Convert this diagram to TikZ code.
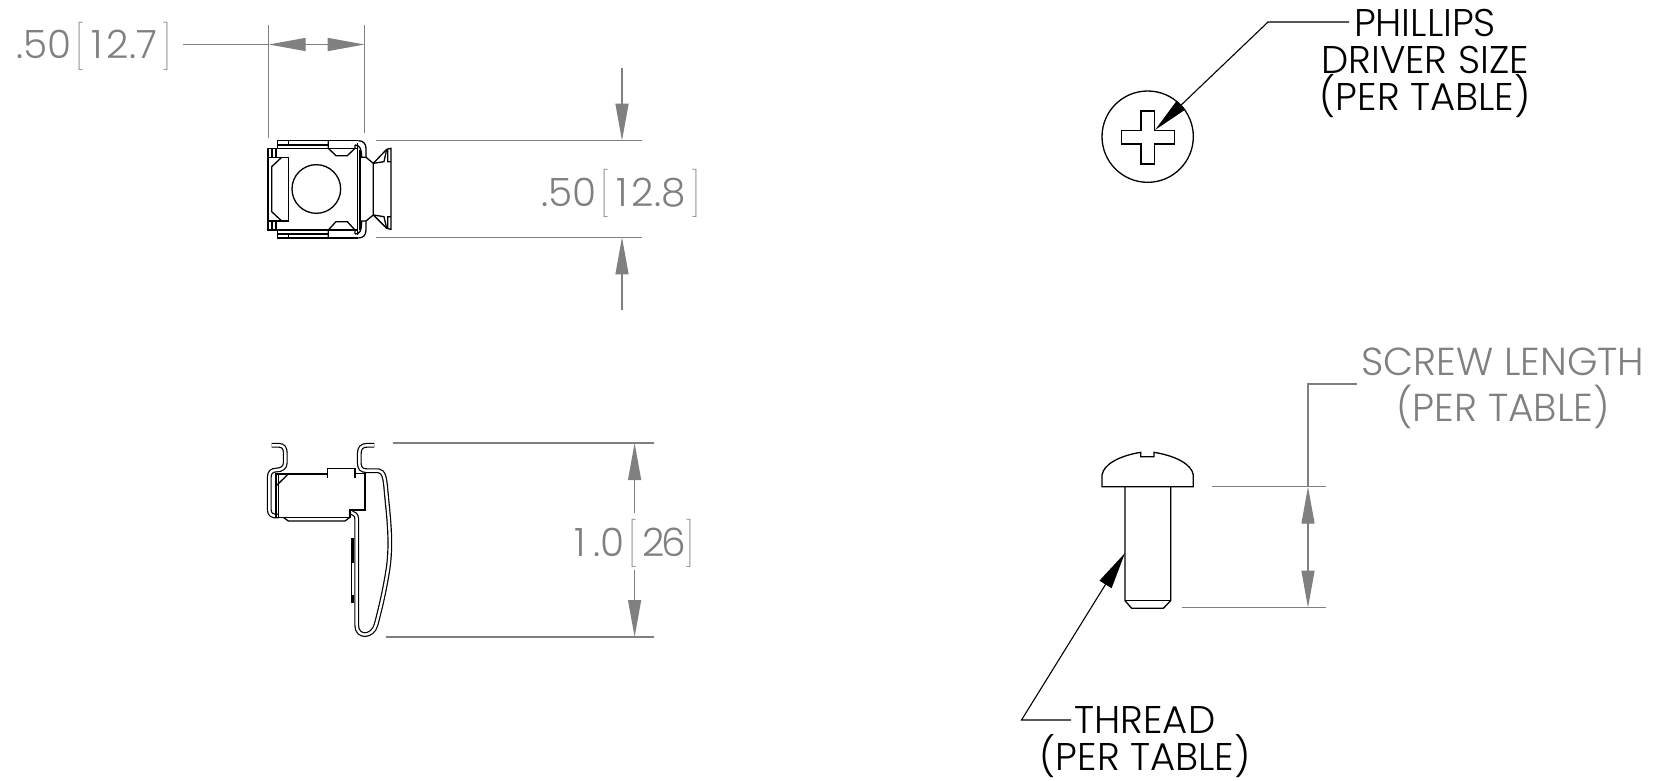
\documentclass[tikz,border=0pt]{standalone}
\usepackage{fontspec}
\setmainfont{Poppins}[UprightFont=* Light]
\newfontfamily\bracketfont{Poppins Thin}
\usepackage{xcolor}
\usetikzlibrary{arrows.meta}
\definecolor{dimgray}{RGB}{128,128,128}
\newcommand{\dimbracket}[1]{{\bracketfont\fontsize{43}{43}\selectfont\raisebox{-3.5pt}{#1}}}
\newcommand{\dimtext}[2]{#1\kern4pt\dimbracket{[}\kern2pt#2\kern3pt\dimbracket{]}}

\begin{document}
\begin{tikzpicture}[x=1pt, y=-1pt]
    \tikzstyle{dimlabel} = [text=dimgray, font=\fontsize{39}{46}\selectfont, align=center, inner sep=0pt]
    \tikzstyle{notelabel} = [text=black, font=\fontsize{38.6}{37}\selectfont, align=center, inner sep=0pt]
    \tikzstyle{dimline} = [draw=dimgray, line width=1.2pt]
    \tikzstyle{dimarrow} = [dimline, -{Triangle[length=37pt, width=13pt]}]
    \tikzstyle{leader} = [draw=black, line width=1.1pt]
    \tikzstyle{part} = [draw=black, line width=1.3pt]
    \tikzstyle{strip} = [draw=black, line width=1.2pt, double=white, double distance=2.4pt]

    \useasboundingbox (0,0) rectangle (1653,781);

    % Top view of the cage nut
    \begin{scope}[shift={(240,120)}, x=0.3333pt, y=-0.3333pt]
        \draw [part] (84,85) -- (84,330) -- (352,330);
        \draw [part] (84,85) -- (112,85);
        \draw [part] (96,85) -- (96,112) (108,85) -- (108,112);
        \draw [part] (96,303) -- (96,330) (108,303) -- (108,330);
        \draw [part] (84,112) -- (145,112) -- (145,303) -- (84,303);
        \draw [part] (125,112) -- (95,140) -- (95,275) -- (125,303);
        \draw [part] (112,85) -- (112,62) -- (355,62);
        \draw [part] (112,75) -- (265,75) (145,62) -- (145,75);
        \draw [part] (112,85) -- (352,85);
        \draw [part] (112,330) -- (112,354) -- (355,354);
        \draw [part] (112,342) -- (265,342) (145,342) -- (145,354);
        \draw [part] (265,62) -- (265,85) -- (288,107) -- (322,107) -- (345,85) -- (345,75);
        \draw [part] (265,354) -- (265,330) -- (288,305) -- (322,305) -- (345,330) -- (345,342);
        \draw [part] (229,207) circle [radius=73];
        \draw [part] (352,70) -- (352,345) (360,90) -- (360,330);
        \draw [part] (355,62) .. controls (370,62) and (378,72) .. (378,85) -- (378,112);
        \draw [part] (345,75) .. controls (358,75) and (365,85) .. (365,112);
        \draw [part] (355,354) .. controls (370,354) and (378,345) .. (378,330) -- (378,303);
        \draw [part] (345,342) .. controls (358,342) and (365,335) .. (365,303);
        \draw [part] (360,112) -- (378,112) -- (400,130) -- (400,285) -- (378,303) -- (360,303);
        \draw [part] (400,130) -- (440,88) -- (453,85) -- (453,328) -- (440,325) -- (400,285);
        \draw [part] (440,88) -- (432,125) -- (400,130) (443,90) -- (443,125) -- (453,125);
        \draw [part] (440,325) -- (432,290) -- (400,285) (443,325) -- (443,290) -- (453,290);
    \end{scope}

    % Side view of the cage nut
    \begin{scope}[shift={(250,430)}, x=0.3333pt, y=-0.3333pt]
        \draw [strip] (373,46) -- (350,46) .. controls (335,46) and (328,55) .. (328,70) -- (328,100) .. controls (328,115) and (335,122) .. (350,122) -- (385,122) .. controls (402,124) and (405,145) .. (408,180) .. controls (414,250) and (428,340) .. (412,430) .. controls (402,490) and (390,540) .. (378,585) .. controls (368,622) and (320,625) .. (320,585) -- (320,265) .. controls (320,255) and (312,250) .. (305,248);
        \draw [strip] (65,46) -- (88,46) .. controls (100,46) and (106,55) .. (106,70) -- (106,98) .. controls (106,112) and (95,120) .. (80,120) .. controls (65,120) and (58,128) .. (58,140) -- (58,240) .. controls (58,252) and (65,260) .. (85,258);
        \draw [part] (78,132) -- (232,132) -- (232,115) -- (315,115) -- (315,130) -- (345,130) -- (345,240) -- (300,240) -- (300,262) -- (78,262) -- cycle;
        \draw [part] (78,168) -- (115,132);
        \draw [part] (85,132) -- (85,262);
        \draw [part] (100,262) -- (115,273) -- (285,273) -- (300,262);
        \draw [part] (232,132) -- (232,145) (315,130) -- (315,145);
        \draw [part, line width=2.4pt] (308,325) -- (308,400) (308,495) -- (308,520);
        \draw [part] (305,325) -- (305,520);
    \end{scope}

    % Phillips recess
    \begin{scope}[shift={(1090,70)}, x=0.3333pt, y=-0.3333pt]
        \draw [part] (173,200) circle [radius=137];
        \draw [part] (153,123) -- (193,123) -- (193,182) -- (253,182) -- (253,222) -- (193,222) -- (193,282) -- (153,282) -- (153,222) -- (94,222) -- (94,182) -- (153,182) -- cycle;
    \end{scope}

    % Screw
    \begin{scope}[shift={(1080,440)}, x=0.3333pt, y=-0.3333pt]
        \draw [part] (66,140) -- (340,140) -- (340,105) .. controls (335,72) and (285,47) .. (222,37) -- (222,50) -- (182,50) -- (182,37) .. controls (120,47) and (71,72) .. (66,105) -- cycle;
        \draw [part] (135,140) -- (135,482) -- (155,505) -- (250,505) -- (272,482) -- (272,140);
        \draw [part] (135,482) -- (272,482);
    \end{scope}

    % Labels
    \node [dimlabel, anchor=base west] (width_label) at (16,59) {\dimtext{.50}{\kern4pt 1\kern4pt 2.7\kern2pt}};
    \node [dimlabel, anchor=base west] (height_label) at (541,206) {\dimtext{.50}{\kern4pt 1\kern4pt 2.8\kern2pt}};
    \node [dimlabel, anchor=base west] (length_label) at (574,556) {\dimtext{1\kern8pt.0}{\kern2pt 2\kern-4pt 6\kern-4pt}};
    \node [dimlabel] (screw_label) at (1503,388) {SCREW LENGTH\\(PER TABLE)};
    \node [notelabel] (phillips_label) at (1425,63) {PHILLIPS\\DRIVER SIZE\\(PER TABLE)};
    \node [notelabel] (thread_label) at (1145,742) {THREAD\\(PER TABLE)};

    % Extension lines
    \coordinate (w_a) at (268.7,25);
    \coordinate (w_b) at (268.7,138);
    \coordinate (w_c) at (364.7,25);
    \coordinate (w_d) at (364.7,133);
    \coordinate (w_la) at (268.7,44.5);
    \coordinate (w_lb) at (364.7,44.5);
    \coordinate (w_lead) at (183,44.5);
    \coordinate (h_a) at (376,140.7);
    \coordinate (h_b) at (642,140.7);
    \coordinate (h_c) at (376,237.3);
    \coordinate (h_d) at (642,237.3);
    \coordinate (h_ta) at (622,68.5);
    \coordinate (h_tb) at (622,140.7);
    \coordinate (h_tc) at (622,310);
    \coordinate (h_td) at (622,237.3);
    \coordinate (l_a) at (392.7,443);
    \coordinate (l_b) at (653.6,443);
    \coordinate (l_c) at (386,637);
    \coordinate (l_d) at (653.6,637);
    \coordinate (l_ta) at (634.6,513);
    \coordinate (l_tb) at (634.6,443);
    \coordinate (l_tc) at (634.6,570);
    \coordinate (l_td) at (634.6,637);
    \coordinate (s_a) at (1212,486.7);
    \coordinate (s_b) at (1326,486.7);
    \coordinate (s_c) at (1182,607.7);
    \coordinate (s_d) at (1326,607.7);
    \coordinate (s_la) at (1308,486.7);
    \coordinate (s_lb) at (1308,607.7);
    \coordinate (s_knee) at (1308,384);
    \coordinate (s_end) at (1357,384);
    \coordinate (p_end) at (1349,22);
    \coordinate (p_knee) at (1268,22);
    \coordinate (p_tip) at (1155,130);
    \coordinate (t_end) at (1071,720);
    \coordinate (t_knee) at (1021.5,720);
    \coordinate (t_tip) at (1125,553);

    % Dimension lines
    \draw [dimline] (w_a) -- (w_b);
    \draw [dimline] (w_c) -- (w_d);
    \draw [dimline] (w_lead) -- (w_la);
    \draw [dimarrow, {Triangle[length=37pt, width=13pt]}-{Triangle[length=37pt, width=13pt]}] (w_la) -- (w_lb);
    \draw [dimline] (h_a) -- (h_b);
    \draw [dimline] (h_c) -- (h_d);
    \draw [dimarrow] (h_ta) -- (h_tb);
    \draw [dimarrow] (h_tc) -- (h_td);
    \draw [dimline] (l_a) -- (l_b);
    \draw [dimline] (l_c) -- (l_d);
    \draw [dimarrow] (l_ta) -- (l_tb);
    \draw [dimarrow] (l_tc) -- (l_td);
    \draw [dimline] (s_a) -- (s_b);
    \draw [dimline] (s_c) -- (s_d);
    \draw [dimline] (s_end) -- (s_knee) -- (s_la);
    \draw [dimarrow, {Triangle[length=37pt, width=13pt]}-{Triangle[length=37pt, width=13pt]}] (s_la) -- (s_lb);

    % Leaders
    \draw [leader, -{Triangle[length=36pt, width=12pt]}] (p_end) -- (p_knee) -- (p_tip);
    \draw [leader, -{Triangle[length=37pt, width=14pt]}] (t_end) -- (t_knee) -- (t_tip);
\end{tikzpicture}
\end{document}
